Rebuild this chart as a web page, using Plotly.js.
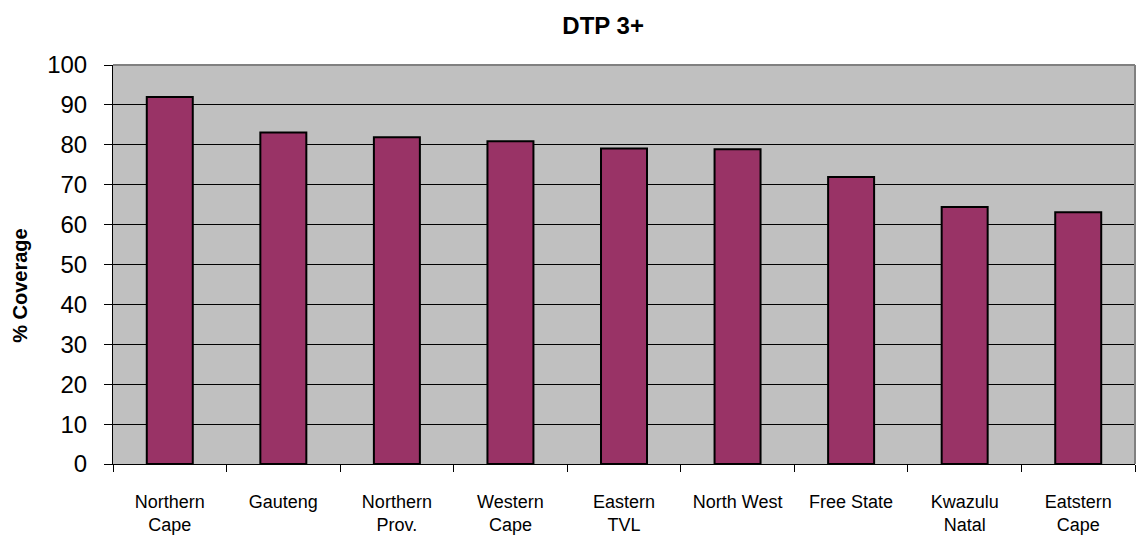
<!DOCTYPE html>
<html>
<head>
<meta charset="utf-8">
<script src="https://cdn.plot.ly/plotly-3.0.1.min.js"></script>
<style>html,body{margin:0;padding:0;background:#fff;}#chart{width:1138px;height:535px;}</style>
</head>
<body>
<div id="chart"></div>
<script>
const categories = ["Northern<br>Cape", "Gauteng", "Northern<br>Prov.", "Western<br>Cape", "Eastern<br>TVL", "North West", "Free State", "Kwazulu<br>Natal", "Eatstern<br>Cape"];
const coverage = [92, 83.1, 81.9, 80.9, 79.1, 78.9, 71.9, 64.4, 63.1];
const yTicks = [0, 10, 20, 30, 40, 50, 60, 70, 80, 90, 100];

const font = "Liberation Sans, Arial, sans-serif";

Plotly.newPlot("chart", [{
  type: "bar",
  x: categories,
  y: coverage,
  marker: {color: "#993366", line: {color: "#000000", width: 2}},
  hoverinfo: "x+y"
}], {
  width: 1138, height: 535,
  margin: {l: 113, r: 3, t: 65, b: 71, pad: 0},
  paper_bgcolor: "#ffffff",
  plot_bgcolor: "#C0C0C0",
  bargap: 0.595,
  showlegend: false,
  title: {text: "<b>DTP 3+</b>", font: {family: font, size: 24, color: "#000"}, x: 0.53, xref: "container", y: 0.953, yref: "container", yanchor: "middle"},
  xaxis: {
    type: "category",
    range: [-0.5, 8.5],
    tickson: "boundaries",
    ticks: "outside", ticklen: 7, tickcolor: "#000", tickwidth: 1,
    showline: true, linecolor: "#000", linewidth: 1,
    showgrid: false, zeroline: false,
    tickfont: {family: font, size: 18, color: "#000"},
    ticklabelstandoff: 21,
    fixedrange: true
  },
  yaxis: {
    range: [0, 100],
    tickvals: yTicks,
    ticktext: yTicks.map(String),
    ticks: "outside", ticklen: 8, tickcolor: "#000", tickwidth: 1,
    showline: true, linecolor: "#000", linewidth: 1,
    showgrid: true, gridcolor: "#000", gridwidth: 1,
    zeroline: false,
    tickfont: {family: font, size: 24, color: "#000"},
    ticklabelstandoff: 12,
    fixedrange: true
  },
  shapes: [
    {type: "line", xref: "paper", yref: "paper", x0: 0, x1: 1, y0: 1, y1: 1, line: {color: "#808080", width: 2}},
    {type: "line", xref: "paper", yref: "paper", x0: 1, x1: 1, y0: 0, y1: 1, line: {color: "#808080", width: 2}}
  ],
  annotations: [{
    text: "<b>% Coverage</b>", textangle: -90,
    xref: "paper", yref: "paper", x: -0.091, y: 0.449,
    xanchor: "center", yanchor: "middle", showarrow: false,
    font: {family: font, size: 20, color: "#000"}
  }]
}, {displayModeBar: false, staticPlot: false});
</script>
</body>
</html>
